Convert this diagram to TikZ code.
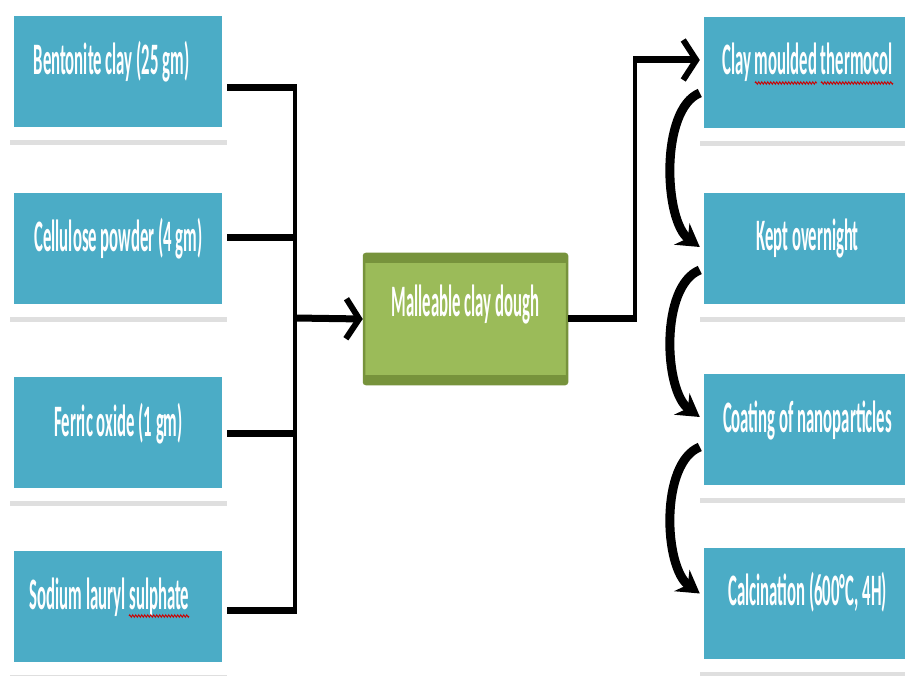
\documentclass[tikz,border=0pt]{standalone}
\usepackage{fontspec}
\setmainfont{Carlito}
\usepackage{graphicx}
\usetikzlibrary{arrows.meta, shadows, decorations.pathmorphing}

\definecolor{boxblue}{RGB}{75,172,198}
\definecolor{doughgreen}{RGB}{155,187,89}
\definecolor{doughedge}{RGB}{119,147,60}

% narrow lettering of the slide
\newcommand{\slim}[1]{\scalebox{0.372}[1]{\bfseries #1}}

\tikzset{
  chev/.tip={Straight Barb[length=13pt, width=40pt, line width=6pt]},
  card/.style={fill=white, inner sep=0pt, text=white,
    minimum width=217pt, minimum height=132pt,
    text height=20pt, text depth=18pt,
    font=\fontsize{45}{50}\selectfont,
    drop shadow={shadow xshift=0pt, shadow yshift=-5pt, opacity=0.25},
    path picture={\fill[boxblue]
      ([shift={(4pt,-8pt)}]path picture bounding box.north west) rectangle
      ([shift={(-5pt,13pt)}]path picture bounding box.south east);}},
  rcard/.style={card, minimum width=215pt, text height=19pt, text depth=19pt},
  dough/.style={fill=doughgreen, draw=doughedge, line width=2.5pt, rounded corners=2pt,
    inner sep=0pt, text=white, minimum width=203pt, minimum height=130pt,
    text height=17pt, text depth=21pt,
    font=\fontsize{45}{50}\selectfont,
    path picture={
      \fill[doughedge] (path picture bounding box.north west) rectangle
        ([yshift=-9pt]path picture bounding box.north east);
      \fill[doughedge] (path picture bounding box.south west) rectangle
        ([yshift=9pt]path picture bounding box.south east);}},
  feed/.style={line width=7pt},
  spine/.style={line width=4.5pt},
  curl/.style={line width=9pt, -{Stealth[length=22pt, width=26pt]}},
  spell/.style={red!80!black, line width=0.9pt, decorate,
    decoration={zigzag, segment length=3pt, amplitude=1.2pt}}
}

\begin{document}
\begin{tikzpicture}[x=1pt, y=-1pt]
  \fill[white] (0,0) rectangle (905,676);
  \useasboundingbox (0,0) rectangle (905,676);

  % ingredients
  \node[card] (bc) at (118.5,74) {\hspace*{-14pt}\slim{Bentonite clay (25 gm)}};
  \node[card] (cp) at (118.5,251) {\slim{Cellulose powder (4 gm)}};
  \node[card] (fo) at (118.5,435) {\slim{Ferric oxide (1 gm)}};
  \node[card] (sl) at (118.5,608.5) {\hspace*{-18pt}\slim{Sodium lauryl sulphate}};

  % dough
  \node[dough] (md) at (465.5,319) {\slim{Malleable clay dough}};

  % process steps
  \node[rcard] (cm) at (807.5,75) {\slim{Clay moulded thermocol}};
  \node[rcard] (ko) at (807.5,251) {\slim{Kept overnight}};
  \node[rcard] (co) at (807.5,432) {\slim{Coating of nanoparticles}};
  \node[rcard] (ca) at (807.5,605.5) {\slim{Calcination (600°C, 4H)}};

  % collecting lines
  \coordinate (j1) at (295,88);
  \coordinate (j2) at (295,238);
  \coordinate (j3) at (295,433);
  \coordinate (j4) at (295,610);
  \coordinate (jm) at (295,318);
  \draw[spine] ([yshift=3.5pt]j1) -- ([yshift=-3.5pt]j4);
  \foreach \b/\j in {bc/j1, cp/j2, fo/j3, sl/j4}
    \draw[feed] (\b.east |- \j) -- ([xshift=2pt]\j);
  \draw[feed, -{chev}] (jm) -- (md.west);

  % to the first step
  \coordinate (k1) at (635,60);
  \draw[feed] (md.east) -- ([xshift=2pt]md.east -| k1);
  \draw[spine] (md.east -| k1) -- ([yshift=3.5pt]k1);
  \draw[feed, -{chev}] (k1) -- (cm.west |- k1);

  % step to step
  \draw[curl] ([yshift=-18pt]cm.west) .. controls +(-40,16) and +(-36,-26) .. ([yshift=4pt]ko.west);
  \draw[curl] ([yshift=-19pt]ko.west) .. controls +(-40,16) and +(-36,-26) .. ([yshift=15pt]co.west);
  \draw[curl] ([yshift=-15pt]co.west) .. controls +(-40,16) and +(-36,-26) .. ([yshift=12pt]ca.west);

  % spell-check marks
  \draw[spell] (129,616) -- (189,616);
  \draw[spell] (755,83) -- (817,83);
  \draw[spell] (821,83) -- (893,83);
\end{tikzpicture}
\end{document}
